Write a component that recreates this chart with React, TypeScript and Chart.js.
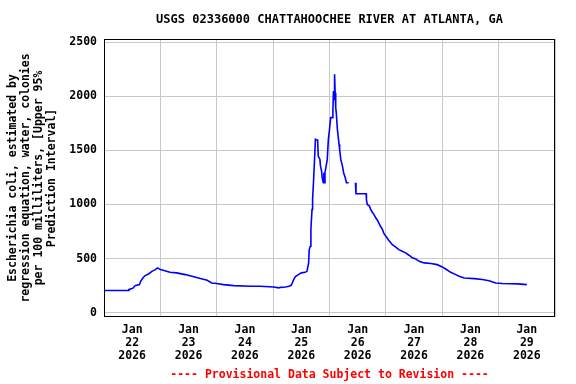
import { useEffect, useRef } from "react";
import { Chart, registerables } from "chart.js";

Chart.register(...registerables);

const titleText = "USGS 02336000 CHATTAHOOCHEE RIVER AT ATLANTA, GA";
const footerText = "---- Provisional Data Subject to Revision ----";
const yAxisTitle = [
  "Escherichia coli, estimated by",
  "regression equation, water, colonies",
  "per 100 milliliters, [Upper 95%",
  "Prediction Interval]",
];
const tickMonth = "Jan";
const tickDays = ["22", "23", "24", "25", "26", "27", "28", "29"];
const tickYear = "2026";
const yTickValues = [0, 500, 1000, 1500, 2000, 2500];

// days since 2026-01-22 00:00
const dayOffset = [
  0.0, 0.43, 0.44, 0.52, 0.55, 0.63, 0.65, 0.69, 0.73, 0.79, 0.85, 0.91, 0.95,
  1.0, 1.05, 1.17, 1.29, 1.44, 1.56, 1.71, 1.83, 1.91, 2.0, 2.12, 2.3, 2.6,
  2.77, 3.01, 3.1, 3.13, 3.22, 3.28, 3.32, 3.34, 3.37, 3.4, 3.45, 3.5, 3.57,
  3.6, 3.63, 3.64, 3.66, 3.67, 3.69, 3.7, 3.72, 3.74, 3.75, 3.77, 3.79, 3.8,
  3.83, 3.84, 3.86, 3.87, 3.89, 3.9, 3.91, 3.92, 3.94, 3.96, 3.98, 4.0, 4.02,
  4.05, 4.06, 4.07, 4.08, 4.09, 4.1, 4.11, 4.12, 4.14, 4.17, 4.18, 4.2, 4.23,
  4.25, 4.28, 4.3, 4.34, 4.4, 4.46, 4.47, 4.65, 4.655, 4.67, 4.71, 4.73, 4.76,
  4.79, 4.82, 4.85, 4.88, 4.91, 4.94, 4.96, 4.99, 5.02, 5.05, 5.08, 5.11, 5.17,
  5.23, 5.29, 5.35, 5.41, 5.47, 5.53, 5.59, 5.68, 5.8, 5.91, 6.0, 6.06, 6.15,
  6.24, 6.3, 6.39, 6.57, 6.71, 6.83, 6.95, 7.07, 7.34, 7.5,
];
const ecoliUpper95 = [
  205, 205, 213, 229, 250, 259, 290, 321, 343, 358, 382, 398, 414,
  398, 392, 373, 368, 352, 336, 315, 299, 275, 269, 259, 250, 244,
  244, 238, 229, 234, 238, 244, 253, 275, 312, 336, 352, 368, 373,
  382, 460, 583, 614, 769, 954, 1046, 1247, 1479, 1602, 1596, 1596, 1447,
  1417, 1355, 1308, 1247, 1201, 1294, 1201, 1294, 1355, 1417, 1602, 1695, 1803,
  1803, 1864, 2049, 1972, 2204, 2034, 1895, 1849, 1695, 1556, 1509, 1417, 1355,
  1294, 1247, 1201, 1201, null, 1201, 1099, 1099, 1046, 1000, 984, 954, 929,
  907, 877, 855, 824, 794, 769, 738, 713, 692, 670, 651, 630, 608,
  583, 568, 553, 531, 507, 497, 475, 460, 454, 444, 423, 404, 373,
  352, 336, 321, 315, 306, 296, 275, 269, 266, 259,
];

const FONT = "'DejaVu Sans Mono', monospace";

const framePlugin = {
  id: "frame",
  afterDraw(chart: any) {
    const { ctx, chartArea } = chart;
    const l = Math.round(chartArea.left);
    const t = Math.round(chartArea.top);
    const r = Math.round(chartArea.right);
    const b = Math.round(chartArea.bottom);
    ctx.save();
    ctx.strokeStyle = "#000000";
    ctx.lineWidth = 1;
    ctx.strokeRect(l + 0.5, t + 0.5, r - l - 1, b - t - 1);
    ctx.restore();
  },
};

export default function App() {
  const canvasRef = useRef<HTMLCanvasElement | null>(null);

  useEffect(() => {
    const canvas = canvasRef.current;
    if (!canvas) return;
    const points = dayOffset.map((d, i) => ({ x: d, y: ecoliUpper95[i] }));
    const chart = new Chart(canvas, {
      type: "line",
      data: {
        datasets: [
          {
            data: points as any,
            borderColor: "#0000ff",
            borderWidth: 1.6,
            pointRadius: 0,
            fill: false,
            tension: 0,
            spanGaps: false,
          },
        ],
      },
      plugins: [framePlugin],
      options: {
        animation: false,
        responsive: false,
        devicePixelRatio: 1,
        layout: { padding: { top: 0, left: 0, right: 21, bottom: 0 } },
        plugins: {
          legend: { display: false },
          tooltip: { enabled: false },
          title: {
            display: true,
            text: titleText,
            fullSize: false,
            color: "#000000",
            font: { family: FONT, size: 12, weight: "bold", lineHeight: 1.2 },
            padding: { top: 12.3, bottom: 12.3 },
          },
          subtitle: {
            display: true,
            position: "bottom",
            text: footerText,
            fullSize: false,
            color: "#ff0000",
            font: { family: FONT, size: 11.5, weight: "bold", lineHeight: 1.2 },
            padding: { top: 0, bottom: 2 },
          },
        },
        scales: {
          x: {
            type: "linear",
            min: 0,
            max: 8,
            afterBuildTicks: (scale: any) => {
              const t = [];
              for (let i = 0; i <= 16; i++) t.push({ value: i / 2 });
              scale.ticks = t;
            },
            afterFit: (scale: any) => {
              scale.height = 51.2;
            },
            border: { display: false },
            grid: {
              drawTicks: false,
              lineWidth: 1,
              color: (ctx: any) =>
                ctx.tick && Number.isInteger(ctx.tick.value)
                  ? "rgb(200,200,200)"
                  : "rgba(0,0,0,0)",
            },
            ticks: {
              autoSkip: false,
              maxRotation: 0,
              minRotation: 0,
              padding: 7.1,
              color: "#000000",
              font: { family: FONT, size: 11.5, weight: "bold", lineHeight: 1.11 },
              callback: (value: any) => {
                const v = Number(value);
                if (Number.isInteger(v)) return "";
                const idx = Math.floor(v);
                return [tickMonth, tickDays[idx], tickYear];
              },
            },
          },
          y: {
            type: "linear",
            min: -40,
            max: 2530,
            afterBuildTicks: (scale: any) => {
              scale.ticks = yTickValues.map((v) => ({ value: v }));
            },
            afterFit: (scale: any) => {
              scale.width = 104;
            },
            border: { display: false },
            grid: {
              drawTicks: false,
              lineWidth: 1,
              color: "rgb(200,200,200)",
            },
            ticks: {
              padding: 7,
              color: "#000000",
              font: { family: FONT, size: 11.5, weight: "bold" },
              callback: (value: any) => String(value),
            },
            title: {
              display: true,
              text: yAxisTitle,
              color: "#000000",
              font: { family: FONT, size: 11.5, weight: "bold", lineHeight: 1.14 },
              padding: { top: 6.1, bottom: 0 },
            },
          },
        },
      },
    } as any);
    return () => {
      chart.destroy();
    };
  }, []);

  return (
    <div
      style={{
        position: "fixed",
        left: 0,
        top: 0,
        width: 576,
        height: 384,
        background: "#ffffff",
      }}
    >
      <canvas ref={canvasRef} width={576} height={384} style={{ display: "block" }} />
    </div>
  );
}
